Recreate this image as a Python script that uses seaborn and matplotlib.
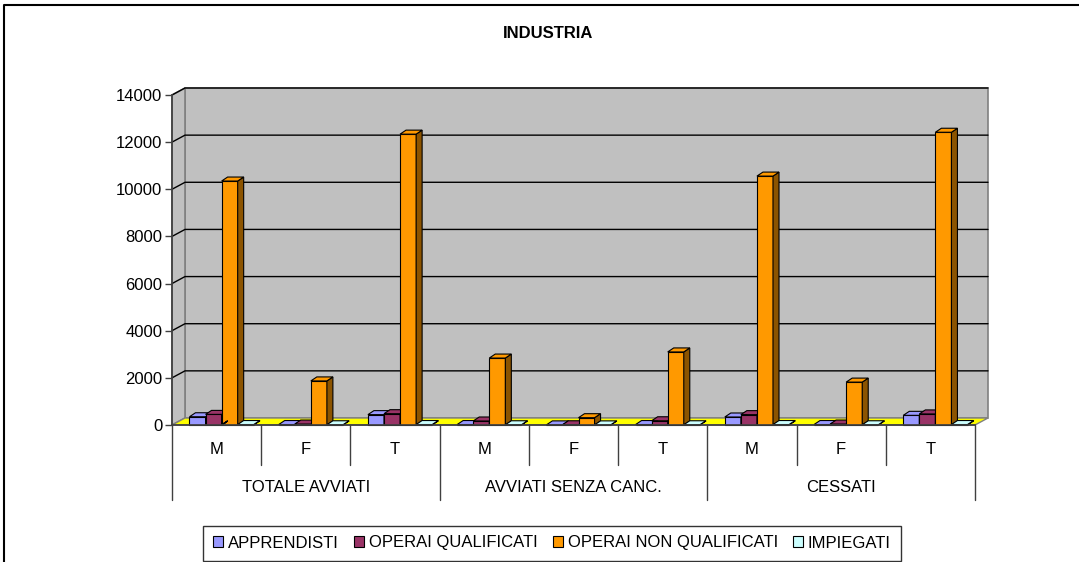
import matplotlib.pyplot as plt
import matplotlib.colors as mcolors
from matplotlib.patches import Polygon, Rectangle
from matplotlib.lines import Line2D
import seaborn as sns
import pandas as pd

# categorie
gruppi = ["TOTALE AVVIATI", "AVVIATI SENZA CANC.", "CESSATI"]
sesso = ["M", "F", "T"]
serie = ["APPRENDISTI", "OPERAI QUALIFICATI", "OPERAI NON QUALIFICATI", "IMPIEGATI"]
colori = ["#9999FF", "#993366", "#FF9900", "#CCFFFF"]

# valori (M, F, T per ogni gruppo)
apprendisti = [350, 20, 440, 20, 5, 20, 340, 20, 410]
operai_qualificati = [450, 40, 480, 170, 10, 180, 440, 40, 470]
operai_non_qualificati = [10350, 1870, 12340, 2840, 310, 3100, 10560, 1820, 12420]
impiegati = [20, 10, 20, 10, 5, 10, 20, 10, 20]
y_ticks = [0, 2000, 4000, 6000, 8000, 10000, 12000, 14000]

etichette_x = [s for g in gruppi for s in sesso]
rows = []
for nome, vals in zip(serie, [apprendisti, operai_qualificati, operai_non_qualificati, impiegati]):
    for i, v in enumerate(vals):
        rows.append({"pos": i, "serie": nome, "valore": v})
df = pd.DataFrame(rows)

sns.set_theme(style="white")
plt.rcParams['font.family'] = ['Liberation Sans', 'DejaVu Sans']
plt.rcParams['text.color'] = 'black'
plt.rcParams['xtick.color'] = 'black'
plt.rcParams['ytick.color'] = 'black'

fig = plt.figure(figsize=(10.79, 5.62), dpi=100)
W, H = 1079, 562
ax = fig.add_axes([172 / W, (H - 425) / H, (975 - 172) / W, (425 - 95) / H])
ax.set_facecolor("none")

sns.barplot(data=df, x="pos", y="valore", hue="serie", hue_order=serie,
            palette=colori, saturation=1, width=0.72, ax=ax,
            edgecolor="black", linewidth=0.8)
ax.get_legend().remove()

n = len(etichette_x)
ax.set_xlim(-0.5, n - 0.5)
ax.set_ylim(0, 14000)

# conversione pixel -> dati per l'effetto 3D
ux = n / (975 - 172)
uy = 14000 / (425 - 95)
bdx, bdy = 13 * ux, 7 * uy      # profondita pareti
dx, dy = 6 * ux, 4 * uy         # profondita barre
shift = 5 * ux
x0, x1 = -0.5, n - 0.5

# parete di fondo e laterale
ax.add_patch(Rectangle((x0 + bdx, bdy), x1 - x0, 14000, facecolor="#C0C0C0",
                       edgecolor="#808080", lw=1.2, zorder=0, clip_on=False))
ax.add_patch(Polygon([(x0, 0), (x0, 14000), (x0 + bdx, 14000 + bdy), (x0 + bdx, bdy)],
                     closed=True, facecolor="#C0C0C0", edgecolor="#808080", lw=1.2,
                     zorder=0, clip_on=False))
# pavimento
ax.add_patch(Polygon([(x0, 0), (x1, 0), (x1 + bdx, bdy), (x0 + bdx, bdy)], closed=True,
                     facecolor="#FFFF00", edgecolor="#808080", lw=1, zorder=0.5, clip_on=False))
for t in y_ticks[1:]:
    ax.add_line(Line2D([x0, x0 + bdx, x1 + bdx], [t, t + bdy, t + bdy], color="black",
                       lw=1, zorder=0.3, clip_on=False))

# barre 3D
bars = [p for p in ax.patches if isinstance(p, Rectangle) and p.get_zorder() > 0.9
        and p.get_width() < 1]
bars.sort(key=lambda p: p.get_x())
for k, p in enumerate(bars):
    x, w, h = p.get_x() + shift, p.get_width(), p.get_height()
    p.set_x(x)
    z = 2 + k * 0.01
    p.set_zorder(z)
    p.set_clip_on(False)
    c = mcolors.to_rgb(p.get_facecolor())
    scuro = tuple(v * 0.55 for v in c)
    ax.add_patch(Polygon([(x + w, 0), (x + w + dx, dy), (x + w + dx, h + dy), (x + w, h)],
                         closed=True, facecolor=scuro, edgecolor="black", lw=0.8,
                         zorder=z, clip_on=False))
    ax.add_patch(Polygon([(x, h), (x + dx, h + dy), (x + w + dx, h + dy), (x + w, h)],
                         closed=True, facecolor=c, edgecolor="black", lw=0.8,
                         zorder=z, clip_on=False))

# assi
for s in ["top", "right"]:
    ax.spines[s].set_visible(False)
ax.spines["left"].set_color("#404040")
ax.spines["bottom"].set_color("#404040")
ax.spines["left"].set_zorder(1)
ax.set_yticks(y_ticks)
ax.set_yticklabels([str(t) for t in y_ticks], fontsize=12)
ax.tick_params(axis="y", direction="out", length=5, width=1, color="#404040", pad=2, left=True)
ax.set_xticks(range(n))
ax.set_xticklabels(etichette_x, fontsize=12)
ax.tick_params(axis="x", length=0, pad=12)
ax.set_xlabel("")
ax.set_ylabel("")

# tabella categorie sotto l'asse
trans = ax.get_xaxis_transform()
h1 = -40 / 330
h2 = -75 / 330
for i in range(n + 1):
    xb = i - 0.5
    basso = h2 if i % 3 == 0 else h1
    ax.add_line(Line2D([xb, xb], [0, basso], transform=trans, color="#404040",
                       lw=1, clip_on=False))
for g, nome in enumerate(gruppi):
    ax.text(g * 3 + 1, -63 / 330, nome, transform=trans, ha="center", va="center",
            fontsize=12)

fig.text(548 / W, 1 - 33 / H, "INDUSTRIA", ha="center", va="center",
         fontsize=12, fontweight="bold")

# bordo esterno
fig.add_artist(Line2D([4 / W, 4 / W, 1.0], [0, 1 - 5 / H, 1 - 5 / H], transform=fig.transFigure,
                      color="black", lw=1.5))

handles = [Rectangle((0, 0), 1, 1, facecolor=c, edgecolor="black", lw=0.8) for c in colori]
leg = fig.legend(handles, serie, loc="center", bbox_to_anchor=(552 / W, 1 - 543 / H),
                 ncol=4, fontsize=12, frameon=True, fancybox=False, edgecolor="black",
                 handlelength=0.6, handleheight=0.6, handletextpad=0.3, columnspacing=0.9,
                 borderpad=0.6)
leg.get_frame().set_linewidth(1)

fig.savefig("out.png", dpi=100)
